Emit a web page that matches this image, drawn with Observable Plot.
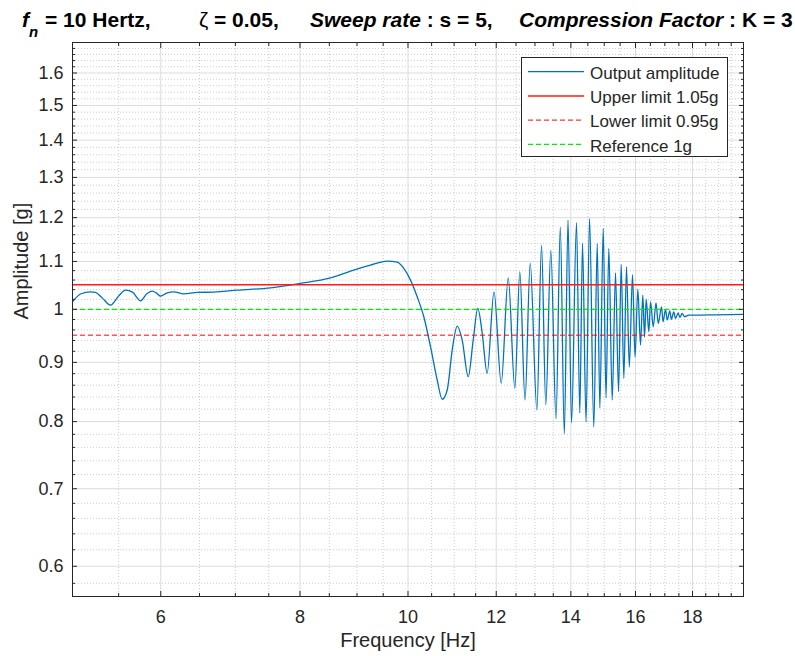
<!DOCTYPE html>
<html><head><meta charset="utf-8">
<script src="https://cdn.jsdelivr.net/npm/d3@7"></script>
<script src="https://cdn.jsdelivr.net/npm/@observablehq/plot@0.6"></script>
<style>body{margin:0;background:#fff;} #chart svg{display:block;}</style>
</head><body><div id="chart"></div>
<script>
// Frequency [Hz] and output amplitude [g]
const freq = [5.00, 5.083, 5.189, 5.243, 5.319, 5.408, 5.499, 5.579, 5.660, 5.755,
  5.827, 5.896, 5.948, 5.998, 6.073, 6.165, 6.293, 6.470, 6.695, 7.027,
  7.527, 8.008, 8.520, 8.940, 9.254, 9.579, 9.779, 9.914, 10.052, 10.192,
  10.332, 10.476, 10.622, 10.732, 10.844, 10.956, 11.070, 11.185, 11.325, 11.442,
  11.551, 11.657, 11.776, 11.945, 12.124, 12.301, 12.470, 12.599, 12.735, 12.872,
  13.052, 13.177, 13.294, 13.432, 13.577, 13.698, 13.812, 13.918, 14.019, 14.164,
  14.261, 14.341, 14.446, 14.551, 14.680, 14.784, 14.864, 14.968, 15.055, 15.142,
  15.249, 15.353, 15.449, 15.535, 15.619, 15.706, 15.797, 15.902, 15.985, 16.077,
  16.167, 16.244, 16.301, 16.358, 16.447, 16.505, 16.597, 16.693, 16.769, 16.884,
  16.936, 17.024, 17.084, 17.176, 17.229, 17.318, 17.379, 17.476, 17.534, 17.621,
  17.705, 17.863, 18.176, 18.810, 20.0];
const amp = [1.015, 1.031, 1.0355, 1.0343, 1.0226, 1.0085, 1.0267, 1.039, 1.0349, 1.0172,
  1.0308, 1.037, 1.0328, 1.0267, 1.0328, 1.0355, 1.0314, 1.0343, 1.0349, 1.039,
  1.0438, 1.0529, 1.0647, 1.0811, 1.0919, 1.1006, 1.0984, 1.0848, 1.0599, 1.0253,
  0.9854, 0.9284, 0.869, 0.8363, 0.8519, 0.9223, 0.9674, 0.9408, 0.8747, 0.9408,
  1.0019, 0.954, 0.8807, 1.0355, 0.8633, 1.0647, 0.8548, 1.0775, 0.8352, 1.0956,
  0.8188, 1.1361, 0.8269, 1.1249, 0.8043, 1.1774, 0.7807, 1.1939, 0.7979, 1.188,
  0.8139, 1.1406, 0.7995, 1.198, 0.7916, 1.14, 0.822, 1.1744, 0.8385, 1.1287,
  0.8352, 1.0753, 0.849, 1.0934, 0.8719, 1.0882, 0.8917, 1.0715, 0.9096, 1.0411,
  0.9315, 1.0288, 0.9464, 1.02, 0.9565, 1.0152, 0.966, 1.0131, 0.9725, 1.0051,
  0.9757, 1.0, 0.9789, 0.9972, 0.9803, 0.9952, 0.9822, 0.9932, 0.9842, 0.992,
  0.9854, 0.9887, 0.9887, 0.9893, 0.99];
const upperLimit = 1.05;
const lowerLimit = 0.95;
const referenceLevel = 1;
const xTicks = [6, 8, 10, 12, 14, 16, 18];
const yTicks = [0.6, 0.7, 0.8, 0.9, 1, 1.1, 1.2, 1.3, 1.4, 1.5, 1.6];
const legendLabels = ["Output amplitude", "Upper limit 1.05g", "Lower limit 0.95g", "Reference 1g"];
const xLabel = "Frequency [Hz]";
const yLabel = "Amplitude [g]";

const xMinor = d3.range(5.5, 20, 0.5).filter(v => !xTicks.includes(v));
const yMinor = d3.range(29, 85).map(i => +(i * 0.02).toFixed(2))
  .filter(v => !yTicks.some(t => Math.abs(t - v) < 1e-9));

const ink = "#262626";
const blue = "#0072BD";
const data = freq.map((f, i) => ({f, a: amp[i]}));

const chart = Plot.plot({
  width: 795, height: 656,
  marginLeft: 72, marginRight: 52, marginTop: 42, marginBottom: 60,
  style: {fontFamily: "'Liberation Sans', Arial, Helvetica, sans-serif", fontSize: "18px", color: ink, background: "#fff"},
  x: {type: "log", domain: [5, 20]},
  y: {type: "log", domain: [0.565, 1.7]},
  marks: [
    Plot.gridX({ticks: xMinor, stroke: "#cdcdcd", strokeOpacity: 1, strokeDasharray: "1,2"}),
    Plot.gridY({ticks: yMinor, stroke: "#cdcdcd", strokeOpacity: 1, strokeDasharray: "1,2"}),
    Plot.gridX({ticks: xTicks, stroke: "#dcdcdc", strokeOpacity: 1}),
    Plot.gridY({ticks: yTicks, stroke: "#dcdcdc", strokeOpacity: 1}),
    Plot.line(data, {x: "f", y: "a", stroke: blue, strokeWidth: 1.3, curve: "monotone-x"}),
    Plot.ruleY([upperLimit], {stroke: "#ff1a1a", strokeWidth: 1.5}),
    Plot.ruleY([lowerLimit], {stroke: "#ff0000", strokeWidth: 1, strokeDasharray: "5,3"}),
    Plot.ruleY([referenceLevel], {stroke: "#00ee00", strokeWidth: 1.2, strokeDasharray: "5,3"}),
    // inward ticks (box on all sides)
    Plot.axisX({ticks: xTicks, anchor: "bottom", tickSize: -5, fill: "none", stroke: ink, label: null}),
    Plot.axisX({ticks: xTicks, anchor: "top", tickSize: -5, fill: "none", stroke: ink, label: null}),
    Plot.axisX({ticks: xMinor, anchor: "bottom", tickSize: -3, fill: "none", stroke: ink, label: null}),
    Plot.axisX({ticks: xMinor, anchor: "top", tickSize: -3, fill: "none", stroke: ink, label: null}),
    Plot.axisY({ticks: yTicks, anchor: "left", tickSize: -5, fill: "none", stroke: ink, label: null}),
    Plot.axisY({ticks: yTicks, anchor: "right", tickSize: -5, fill: "none", stroke: ink, label: null}),
    Plot.axisY({ticks: yMinor, anchor: "left", tickSize: -3, fill: "none", stroke: ink, label: null}),
    Plot.axisY({ticks: yMinor, anchor: "right", tickSize: -3, fill: "none", stroke: ink, label: null}),
    // tick labels
    Plot.axisX({ticks: xTicks, anchor: "bottom", tickSize: 0, tickPadding: 14, tickFormat: d => String(d), fill: ink, label: null}),
    Plot.axisY({ticks: yTicks, anchor: "left", tickSize: 0, tickPadding: 9, tickFormat: d => String(d), fill: ink, label: null}),
    Plot.frame({stroke: ink, strokeWidth: 1}),
    Plot.text([xLabel], {text: d => d, frameAnchor: "bottom", dy: 44, fontSize: 20, fill: ink, lineAnchor: "middle"}),
    Plot.text([yLabel], {text: d => d, frameAnchor: "left", dx: -51, rotate: -90, fontSize: 20, fill: ink})
  ]
});
document.getElementById("chart").appendChild(chart);

// Title
const svg = d3.select(chart);
const tg = svg.append("g").attr("font-size", 21).attr("font-weight", "bold").attr("fill", "#000")
  .attr("text-anchor", "start");
tg.append("text").attr("x", 22).attr("y", 27).attr("font-style", "italic").text("f");
tg.append("text").attr("x", 29).attr("y", 37).attr("font-style", "italic").attr("font-size", 15).text("n");
tg.append("text").attr("x", 45).attr("y", 27).text("= 10 Hertz,");
tg.append("text").attr("x", 199).attr("y", 27).attr("font-weight", "normal").text("ζ");
tg.append("text").attr("x", 214).attr("y", 27).text("= 0.05,");
const t3 = tg.append("text").attr("x", 310).attr("y", 27);
t3.append("tspan").attr("font-style", "italic").text("Sweep rate");
t3.append("tspan").text(" : s = 5,");
const t4 = tg.append("text").attr("x", 519).attr("y", 27);
t4.append("tspan").attr("font-style", "italic").text("Compression Factor");
t4.append("tspan").text(" : K = 3");

// Legend
const styles = [
  {stroke: blue, w: 1.3, dash: null},
  {stroke: "#ff1a1a", w: 1.5, dash: null},
  {stroke: "#ff0000", w: 1, dash: "5,3"},
  {stroke: "#00ee00", w: 1.2, dash: "5,3"}
];
const lg = svg.append("g").attr("text-anchor", "start");
lg.append("rect").attr("x", 521.5).attr("y", 57.5).attr("width", 206).attr("height", 99)
  .attr("fill", "#fff").attr("stroke", ink).attr("stroke-width", 1);
legendLabels.forEach((lab, i) => {
  const y = 71.7 + i * 24.2;
  const s = styles[i];
  lg.append("line").attr("x1", 528).attr("x2", 584).attr("y1", y).attr("y2", y)
    .attr("stroke", s.stroke).attr("stroke-width", s.w).attr("stroke-dasharray", s.dash);
  lg.append("text").attr("x", 590).attr("y", y + 7.3).attr("font-size", 17).attr("fill", ink).text(lab);
});
</script>
</body></html>
